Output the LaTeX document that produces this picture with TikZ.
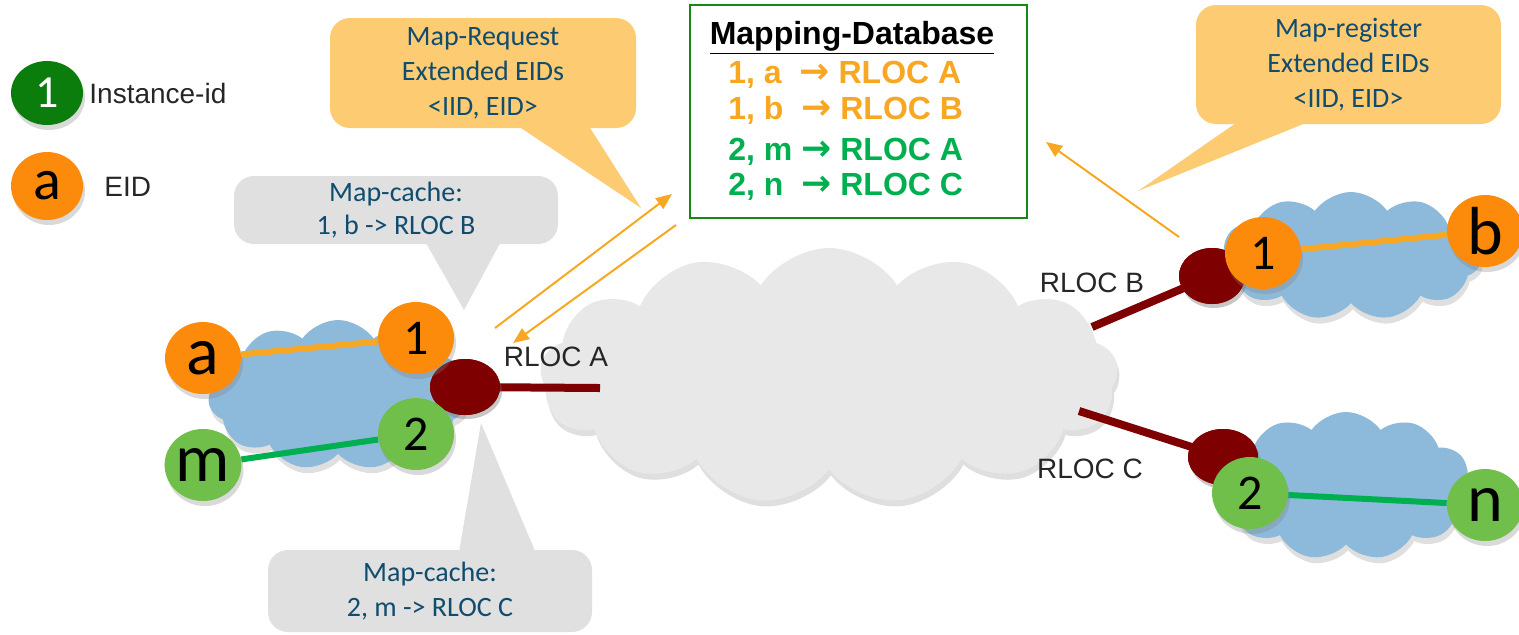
\documentclass[tikz,border=0pt]{standalone}
\usepackage{fontspec}
\setmainfont{Liberation Sans}
\newfontfamily\calfont{Carlito}
\newfontfamily\arrfont{DejaVu Sans}
\usetikzlibrary{shapes.geometric,shapes.symbols,shadows,arrows.meta}
\definecolor{eidorange}{HTML}{FD8B0B}
\definecolor{iidgreen}{HTML}{6FBF4A}
\definecolor{legendgreen}{HTML}{0A7D0C}
\definecolor{rlocred}{HTML}{7F0000}
\definecolor{sitecloud}{HTML}{8DBADB}
\definecolor{corecloud}{HTML}{E8E8E8}
\definecolor{msgfill}{HTML}{FDCB72}
\definecolor{cachefill}{HTML}{E0E0E0}
\definecolor{calltext}{HTML}{104C6E}
\definecolor{dborange}{HTML}{F7A722}
\definecolor{dbgreen}{HTML}{00B050}
\definecolor{dbframe}{HTML}{138A13}
\definecolor{labelgray}{HTML}{262626}
\tikzset{
	eidball/.style={ellipse, inner sep=0pt, minimum width=38pt, minimum height=36pt, fill=eidorange,
		font=\calfont\fontsize{34}{34}\selectfont, drop shadow={opacity=0.3,shadow xshift=1pt,shadow yshift=-2.5pt}},
	iidball/.style={eidball, font=\calfont\fontsize{25}{25}\selectfont},
	rlocdot/.style={ellipse, inner sep=0pt, minimum width=35pt, minimum height=28pt, fill=rlocred,
		drop shadow={opacity=0.25,shadow xshift=1pt,shadow yshift=-2pt}},
	sitecl/.style={cloud, cloud puffs=11, cloud puff arc=110, aspect=2, inner sep=0pt, fill=sitecloud,
		drop shadow={opacity=0.25,shadow xshift=1pt,shadow yshift=-3pt}},
	rlocline/.style={line width=4pt, rlocred},
	msgline/.style={line width=1pt, dborange, -{Triangle[length=8pt,width=6.5pt]}},
	callbox/.style={rounded corners=10pt, inner sep=0pt, text=calltext, align=center,
		font=\calfont\fontsize{14}{17.5}\selectfont},
	lbl/.style={text=labelgray, font=\fontsize{14}{14}\selectfont, inner sep=0pt},
	dbentry/.style={anchor=west, inner sep=0pt, font=\bfseries\fontsize{16}{16}\selectfont}
}
\newcommand{\maparr}{{\arrfont\bfseries\fontsize{18}{16}\selectfont\char"2192}}
\begin{document}
\begin{tikzpicture}[x=0.5pt,y=-0.5pt]
	\useasboundingbox (0,0) rectangle (1519,634);
	\node[cloud, cloud puffs=13, cloud puff arc=115, aspect=2.3, inner sep=0pt, fill=corecloud,
		minimum width=289pt, minimum height=128pt,
		drop shadow={opacity=0.25,shadow xshift=1pt,shadow yshift=-3pt}] (core) at (829,376) {};
	\node[sitecl, minimum width=130pt, minimum height=75pt] (siteA) at (338,395) {};
	\node[sitecl, minimum width=130pt, minimum height=64pt] (siteB) at (1351,256) {};
	\node[sitecl, minimum width=126pt, minimum height=74pt] (siteC) at (1346,486) {};
	\coordinate (coreA) at (600,388);
	\coordinate (coreB) at (1092,327);
	\coordinate (coreC) at (1079,411);
	\node[callbox, fill=msgfill, minimum width=153pt, minimum height=55pt] (req) at (483,73)
		{Map-Request\\Extended EIDs\\<IID, EID>};
	\fill[msgfill] (509,120) -- (641,208) -- (585,120) -- cycle;
	\node[callbox, fill=msgfill, minimum width=152.5pt, minimum height=59.5pt] (reg) at (1348.5,64.5)
		{Map-register\\Extended EIDs\\<IID, EID>};
	\fill[msgfill] (1246,116) -- (1138,191) -- (1323,116) -- cycle;
	\node[callbox, fill=cachefill, minimum width=162pt, minimum height=34pt,
		font=\calfont\fontsize{14}{16.5}\selectfont] (cacheB) at (396,210)
		{Map-cache:\\1, b -> RLOC B};
	\fill[cachefill] (422,236) -- (464,310) -- (504,236) -- cycle;
	\node[callbox, fill=cachefill, minimum width=162pt, minimum height=41pt,
		font=\calfont\fontsize{14}{17.5}\selectfont] (cacheC) at (430,591)
		{Map-cache:\\2, m -> RLOC C};
	\fill[cachefill] (458,558) -- (481,423) -- (538,558) -- cycle;
	\node[rlocdot] (rA) at (465,387) {};
	\node[rlocdot, minimum width=33pt] (rB) at (1212,276) {};
	\node[rlocdot] (rC) at (1223,457) {};
	\draw[rlocline] (rA.center) -- (coreA);
	\draw[rlocline] (rB.center) -- (coreB);
	\draw[rlocline] (rC.center) -- (coreC);
	\node[rlocdot] at (465,387) {};
	\node[rlocdot, minimum width=33pt] at (1212,276) {};
	\node[rlocdot] at (1223,457) {};
	\node[eidball] (eA) at (203,358) {a};
	\node[eidball, fill=iidgreen] (eM) at (203,465) {m};
	\node[iidball] (iA1) at (416,338) {1};
	\node[iidball, fill=iidgreen] (iA2) at (416,434) {2};
	\node[iidball] (iB1) at (1263,253) {1};
	\node[eidball] (eB) at (1485,231) {b};
	\node[iidball, fill=iidgreen] (iC2) at (1250,493) {2};
	\node[eidball, fill=iidgreen] (eN) at (1485,505) {n};
	\draw[line width=3pt, dborange] (eA) -- (iA1);
	\draw[line width=3pt, dbgreen] (eM) -- (iA2);
	\draw[line width=3pt, dborange] (iB1) -- (eB);
	\draw[line width=3pt, dbgreen] (iC2) -- (eN);
	\node[ellipse, inner sep=0pt, minimum width=36pt, minimum height=32pt, fill=legendgreen, text=white,
		font=\calfont\fontsize{23}{23}\selectfont,
		drop shadow={opacity=0.3,shadow xshift=1pt,shadow yshift=-2.5pt}] (keyI) at (47,93) {1};
	\node[eidball, minimum width=36pt, minimum height=34pt, font=\calfont\fontsize{29}{29}\selectfont] (keyE) at (47,186) {a};
	\node[lbl, anchor=west] (keyIt) at (89,93) {Instance-id};
	\node[lbl, anchor=west] (keyEt) at (104,187) {EID};
	\node[lbl] (lA) at (556,357) {RLOC A};
	\node[lbl] (lB) at (1092,283) {RLOC B};
	\node[lbl] (lC) at (1090,469) {RLOC C};
	\coordinate (up1) at (495,328);
	\coordinate (up2) at (672,194);
	\coordinate (dn1) at (676,225);
	\coordinate (dn2) at (513,343);
	\coordinate (rg1) at (1179,237);
	\coordinate (rg2) at (1046,142);
	\draw[msgline] (up1) -- (up2);
	\draw[msgline] (dn1) -- (dn2);
	\draw[msgline] (rg1) -- (rg2);
	\node[draw=dbframe, line width=1pt, fill=white, minimum width=168.5pt, minimum height=106.5pt, inner sep=0pt] (db) at (858.5,111.5) {};
	\node[inner sep=0pt, font=\bfseries\fontsize{16}{16}\selectfont] (dbt) at (852,38) {\underline{Mapping-Database}};
	\node[dbentry, text=dborange] (db1) at (728,75) {1, a \ \maparr\ RLOC A};
	\node[dbentry, text=dborange] (db2) at (728,110) {1, b \ \maparr\ RLOC B};
	\node[dbentry, text=dbgreen] (db3) at (728,152) {2, m \maparr\ RLOC A};
	\node[dbentry, text=dbgreen] (db4) at (728,187) {2, n \ \maparr\ RLOC C};
\end{tikzpicture}
\end{document}
